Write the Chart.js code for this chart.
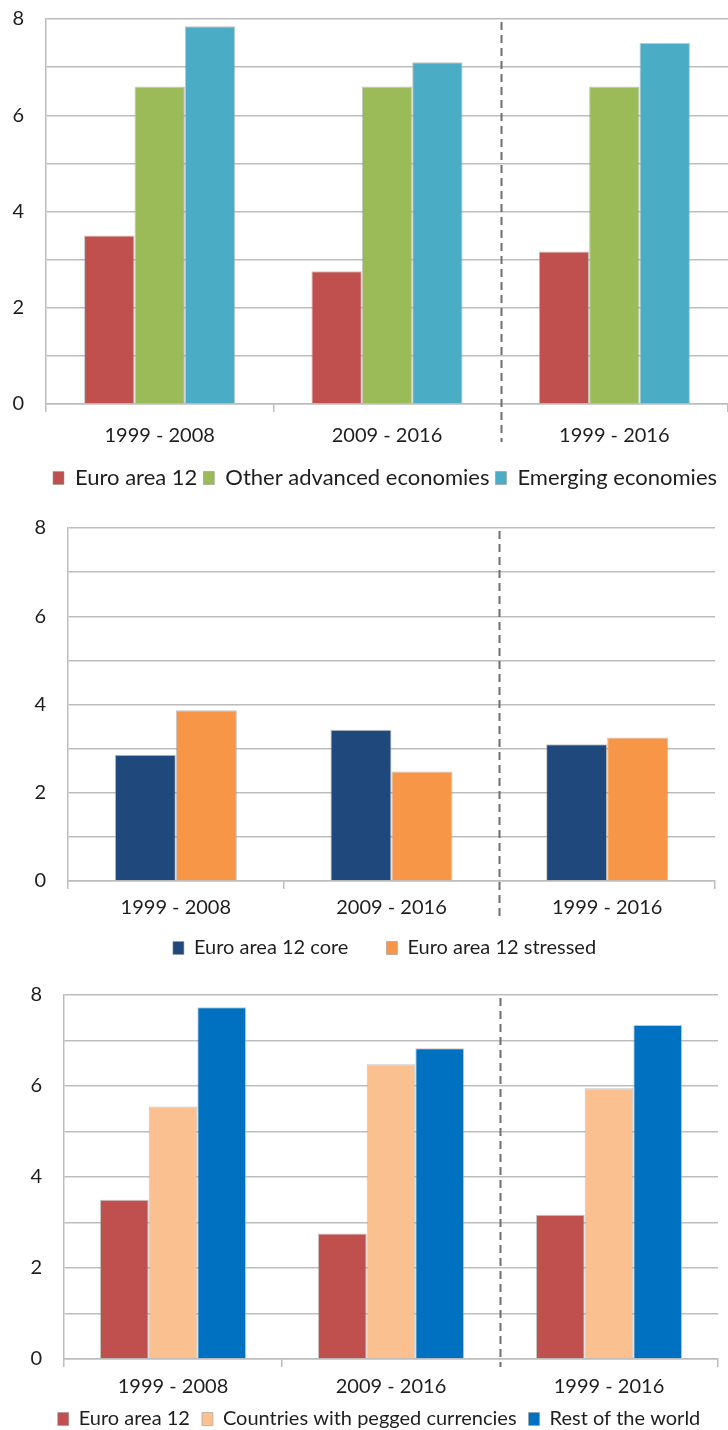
<!DOCTYPE html>
<html>
<head>
<meta charset="utf-8">
<script src="https://cdn.jsdelivr.net/npm/chart.js@4.4.0/dist/chart.umd.min.js"></script>
<style>
  body { margin: 0; background: #fff; width: 728px; height: 1430px; position: relative; overflow: hidden; }
  .box { position: absolute; left: 0; width: 728px; }
</style>
</head>
<body>
<div class="box" style="top:0;height:500px"><canvas id="c1"></canvas></div>
<div class="box" style="top:500px;height:490px"><canvas id="c2"></canvas></div>
<div class="box" style="top:975px;height:470px"><canvas id="c3"></canvas></div>
<script>
// periodos
const periods = ["1999 - 2008", "2009 - 2016", "1999 - 2016"];
const yTicks = [0, 2, 4, 6, 8];

// panel 1
const euroArea12 = [3.5, 2.76, 3.17];
const otherAdvanced = [6.6, 6.6, 6.6];
const emerging = [7.85, 7.1, 7.5];

// panel 2
const euroCore = [2.86, 3.43, 3.1];
const euroStressed = [3.87, 2.48, 3.25];

// panel 3
const pegged = [5.55, 6.48, 5.95];
const restOfWorld = [7.73, 6.83, 7.34];

const FONT = "Lato, 'Open Sans', sans-serif";
const GRID = "#bdbdbd";
const INK = "#1e1e1e";
Chart.defaults.font.family = FONT;
Chart.defaults.color = INK;

// linea discontinua entre el segundo y el tercer periodo
const dividerPlugin = {
  id: "divider",
  afterDatasetsDraw(chart, args, opts) {
    const x = chart.scales.x;
    const a = chart.chartArea;
    const ctx = chart.ctx;
    const px = Math.round((x.getPixelForValue(1) + x.getPixelForValue(2)) / 2) + 0.5;
    ctx.save();
    ctx.fillStyle = "#fff";
    ctx.fillRect(px - 2, a.bottom + 1, 4, 10);
    ctx.strokeStyle = "#6f6f6f";
    ctx.lineWidth = 2;
    ctx.setLineDash([8, 5]);
    ctx.beginPath();
    ctx.moveTo(px, a.top + 3);
    ctx.lineTo(px, a.bottom + opts.below);
    ctx.stroke();
    ctx.restore();
  }
};

// mueve la leyenda un poco (no va centrada en el original)
const legendShiftPlugin = {
  id: "legendShift",
  afterLayout(chart, args, opts) {
    const lg = chart.legend;
    if (!lg) return;
    lg.left += opts.dx;
    lg.right += opts.dx;
    lg.top += opts.dy;
    lg.bottom += opts.dy;
  }
};

function bars(label, data, color) {
  return {
    label: label,
    data: data,
    backgroundColor: color,
    borderColor: "rgba(150,150,150,0.55)",
    borderWidth: 1
  };
}

function makeChart(id, datasets, cfg) {
  return new Chart(document.getElementById(id), {
    type: "bar",
    data: { labels: periods, datasets: datasets },
    plugins: [dividerPlugin, legendShiftPlugin],
    options: {
      responsive: true,
      maintainAspectRatio: false,
      animation: false,
      categoryPercentage: cfg.groupWidth,
      barPercentage: 1,
      layout: { padding: cfg.padding },
      plugins: {
        tooltip: { enabled: false },
        divider: { below: cfg.dashBelow },
        legendShift: { dx: cfg.legendDx, dy: cfg.legendDy },
        legend: {
          position: "bottom",
          labels: {
            font: { size: cfg.legendFont },
            boxWidth: 11,
            boxHeight: 13,
            padding: cfg.legendGap,
            color: INK
          }
        }
      },
      scales: {
        x: {
          grid: { drawOnChartArea: false, tickLength: 8, color: GRID, lineWidth: 1.5 },
          border: { color: GRID, width: 1.5 },
          ticks: { font: { size: 20 }, padding: cfg.xPad, color: INK },
          afterFit: s => { s.height = cfg.xHeight; s.paddingLeft = 0; s.paddingRight = 0; }
        },
        y: {
          min: 0,
          max: 8,
          ticks: {
            stepSize: 1,
            autoSkip: false,
            padding: 22,
            font: { size: 20 },
            color: INK,
            callback: v => (yTicks.includes(v) ? v : "")
          },
          grid: { drawTicks: false, color: GRID, lineWidth: 1.5 },
          border: { color: GRID, width: 1.5 },
          afterFit: s => { s.width = cfg.yWidth; s.paddingTop = 0; s.paddingBottom = 0; }
        }
      }
    }
  });
}

makeChart("c1", [
  bars("Euro area 12", euroArea12, "#c0504d"),
  bars("Other advanced economies", otherAdvanced, "#9bbb59"),
  bars("Emerging economies", emerging, "#4bacc6")
], { groupWidth: 0.665, padding: { top: 19, left: 0, right: 0, bottom: 1 }, yWidth: 46, xHeight: 57,
     xPad: 12, legendFont: 22, legendGap: 6, legendDx: 21, legendDy: 0, dashBelow: 38 });

makeChart("c2", [
  bars("Euro area 12 core", euroCore, "#1f497d"),
  bars("Euro area 12 stressed", euroStressed, "#f79646")
], { groupWidth: 0.566, padding: { top: 28, left: 0, right: 13, bottom: 2 }, yWidth: 68, xHeight: 39,
     xPad: 7, legendFont: 20, legendGap: 38, legendDx: 27, legendDy: -20, dashBelow: 36 });

makeChart("c3", [
  bars("Euro area 12", euroArea12, "#c0504d"),
  bars("Countries with pegged currencies", pegged, "#fac090"),
  bars("Rest of the world", restOfWorld, "#0070c0")
], { groupWidth: 0.67, padding: { top: 20, left: 0, right: 10, bottom: 4 }, yWidth: 64, xHeight: 40,
     xPad: 8, legendFont: 20, legendGap: 12, legendDx: 20, legendDy: -2, dashBelow: 8 });
</script>
</body>
</html>
